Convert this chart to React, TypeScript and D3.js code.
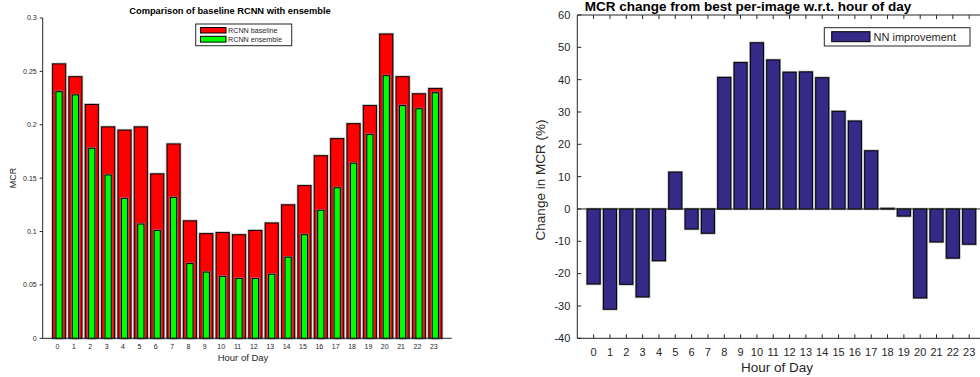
import React from "react";
import * as d3 from "d3";

const hours = d3.range(0, 24);
const rcnnBaseline = [0.257, 0.245, 0.219, 0.198, 0.195, 0.198, 0.154, 0.182, 0.110, 0.098, 0.099, 0.097, 0.101, 0.108, 0.125, 0.143, 0.171, 0.187, 0.201, 0.218, 0.285, 0.245, 0.229, 0.234];
const rcnnEnsemble = [0.231, 0.228, 0.178, 0.153, 0.131, 0.107, 0.101, 0.132, 0.070, 0.062, 0.058, 0.056, 0.056, 0.060, 0.076, 0.097, 0.120, 0.141, 0.164, 0.191, 0.246, 0.218, 0.215, 0.230];
const nnImprovement = [-23.2, -31.0, -23.3, -27.2, -16.0, 11.4, -6.2, -7.5, 40.7, 45.3, 51.4, 46.1, 42.3, 42.4, 40.6, 30.2, 27.2, 18.0, 0.2, -2.2, -27.5, -10.2, -15.2, -10.9];
const leftYTicks = [0, 0.05, 0.1, 0.15, 0.2, 0.25, 0.3];
const rightYTicks = [-40, -30, -20, -10, 0, 10, 20, 30, 40, 50, 60];

const FONT = "'Liberation Sans', Arial, Helvetica, sans-serif";
const TXT = "#262626";

function LeftChart() {
  const x = d3.scaleLinear().domain([-1, 24]).range([42.7, 451.7]);
  const y = d3.scaleLinear().domain([0, 0.3]).range([338.3, 18]);
  const step = x(1) - x(0);
  const wR = step * 0.8;
  const wG = step * 0.38;
  return (
    <g fontFamily={FONT}>
      {hours.map((h, i) => (
        <g key={"r" + i}>
          <rect x={x(h) - wR / 2} y={y(rcnnBaseline[i])} width={wR} height={y(0) - y(rcnnBaseline[i])} fill="none" stroke="#bbb" strokeWidth={2.6} />
          <rect x={x(h) - wR / 2} y={y(rcnnBaseline[i])} width={wR} height={y(0) - y(rcnnBaseline[i])} fill="#ff0000" stroke="#000" strokeWidth={1} />
        </g>
      ))}
      {hours.map((h, i) => (
        <g key={"g" + i}>
          <rect x={x(h) - wG / 2} y={y(rcnnEnsemble[i])} width={wG} height={y(0) - y(rcnnEnsemble[i])} fill="none" stroke="#888" strokeWidth={2.2} />
          <rect x={x(h) - wG / 2} y={y(rcnnEnsemble[i])} width={wG} height={y(0) - y(rcnnEnsemble[i])} fill="#00ff00" stroke="#000" strokeWidth={1} />
        </g>
      ))}
      <line x1={x(-1)} x2={x(-1)} y1={y(0.3)} y2={y(0)} stroke="#262626" strokeWidth={1} />
      <line x1={x(-1)} x2={x(24)} y1={y(0)} y2={y(0)} stroke="#262626" strokeWidth={1} />
      {leftYTicks.map((t) => (
        <g key={"yt" + t}>
          <line x1={x(-1) - 3} x2={x(-1)} y1={y(t)} y2={y(t)} stroke="#262626" />
          <text x={x(-1) - 6} y={y(t)} dy="0.35em" textAnchor="end" fontSize={7} fill={TXT}>{t}</text>
        </g>
      ))}
      {hours.map((h) => (
        <text key={"xt" + h} x={x(h) - 1.5} y={349.3} textAnchor="middle" fontSize={7} fill={TXT}>{h}</text>
      ))}
      <text x={243} y={361} textAnchor="middle" fontSize={9.5} fill={TXT}>Hour of Day</text>
      <text transform={`translate(15.5,${178}) rotate(-90)`} textAnchor="middle" fontSize={9} fill={TXT}>MCR</text>
      <text x={230} y={13.5} textAnchor="middle" fontSize={9.3} fontWeight="bold" fill="#000">Comparison of baseline RCNN with ensemble</text>
      <g>
        <rect x={195.7} y={24} width={96} height={21.7} fill="#fff" stroke="#262626" strokeWidth={1} />
        <rect x={200.5} y={27.5} width={25.5} height={5.5} fill="#ff0000" stroke="#000" strokeWidth={1} />
        <text x={228} y={32.8} fontSize={7.2} fill={TXT}>RCNN baseline</text>
        <rect x={200.5} y={36.3} width={25.5} height={5.8} fill="#00ff00" stroke="#000" strokeWidth={1} />
        <text x={228} y={41.8} fontSize={7.2} fill={TXT}>RCNN ensemble</text>
      </g>
    </g>
  );
}

function RightChart() {
  const x = d3.scaleLinear().domain([-1, 24]).range([577.3, 985.5]);
  const y = d3.scaleLinear().domain([-40, 60]).range([338.3, 15]);
  const step = x(1) - x(0);
  const w = step * 0.8;
  const barColor = "#352a87";
  return (
    <g fontFamily={FONT}>
      {hours.map((h, i) => {
        const v = nnImprovement[i];
        const y0 = Math.min(y(v), y(0));
        const hgt = Math.abs(y(v) - y(0));
        return (
          <g key={"b" + i}>
            <rect x={x(h) - w / 2} y={y0} width={w} height={hgt} fill="none" stroke="#aaa" strokeWidth={2.4} />
            <rect x={x(h) - w / 2} y={y0} width={w} height={hgt} fill={barColor} stroke="#000" strokeWidth={1} />
          </g>
        );
      })}
      <line x1={x(-1)} x2={980} y1={y(0)} y2={y(0)} stroke="#262626" strokeWidth={1} />
      <line x1={x(-1)} x2={x(-1)} y1={y(60)} y2={y(-40)} stroke="#262626" strokeWidth={1} />
      <line x1={x(-1)} x2={980} y1={y(-40)} y2={y(-40)} stroke="#262626" strokeWidth={1} />
      <line x1={x(-1)} x2={980} y1={y(60)} y2={y(60)} stroke="#262626" strokeWidth={1} />
      {rightYTicks.map((t) => (
        <g key={"yt" + t}>
          <line x1={x(-1)} x2={x(-1) + 4} y1={y(t)} y2={y(t)} stroke="#262626" />
          <text x={x(-1) - 7} y={y(t)} dy="0.35em" textAnchor="end" fontSize={11} fill={TXT}>{t}</text>
        </g>
      ))}
      {hours.map((h) => (
        <g key={"xt" + h}>
          <line x1={x(h)} x2={x(h)} y1={y(-40)} y2={y(-40) - 4} stroke="#262626" />
          <line x1={x(h)} x2={x(h)} y1={y(60)} y2={y(60) + 4} stroke="#262626" />
          <text x={x(h)} y={355.5} textAnchor="middle" fontSize={11} fill={TXT}>{h}</text>
        </g>
      ))}
      <text x={777} y={372} textAnchor="middle" fontSize={13.5} fill={TXT}>Hour of Day</text>
      <text transform={`translate(545,${180}) rotate(-90)`} textAnchor="middle" fontSize={13.5} fill={TXT}>Change in MCR (%)</text>
      <text x={748} y={11} textAnchor="middle" fontSize={13.5} fontWeight="bold" fill="#000">MCR change from best per-image w.r.t. hour of day</text>
      <g>
        <rect x={824.3} y={27.7} width={145.7} height={18.3} fill="#fff" stroke="#262626" strokeWidth={1} />
        <rect x={831.7} y={31.7} width={38.3} height={10} fill={barColor} stroke="#000" strokeWidth={1} />
        <text x={873.5} y={40.5} fontSize={11} fill={TXT}>NN improvement</text>
      </g>
    </g>
  );
}

export default function App() {
  return (
    <svg width={980} height={377} style={{ position: "absolute", left: 0, top: 0, background: "#fff" }}>
      <rect x={0} y={0} width={980} height={377} fill="#fff" />
      <LeftChart />
      <RightChart />
    </svg>
  );
}
